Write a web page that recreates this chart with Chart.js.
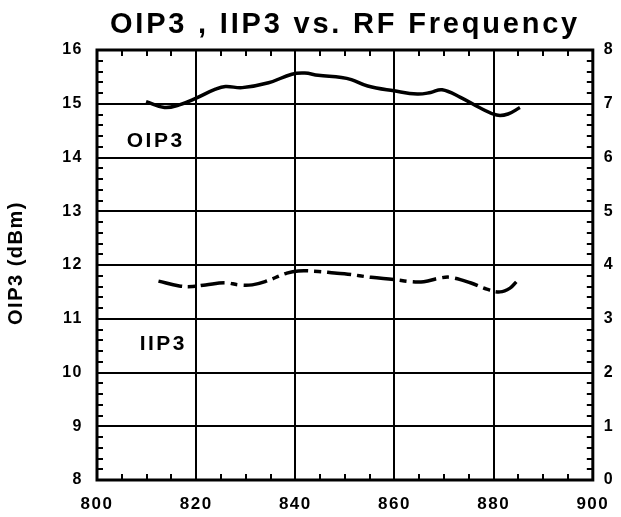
<!DOCTYPE html>
<html>
<head>
<meta charset="utf-8">
<script src="https://cdn.jsdelivr.net/npm/chart.js@4"></script>
<style>
  html, body { margin: 0; padding: 0; background: #fff; }
  #wrap { width: 621px; height: 517px; }
</style>
</head>
<body>
<div id="wrap"><canvas id="c" width="621" height="517"></canvas></div>
<script>
// OIP3 / IIP3 vs RF frequency — two traces, left axis dBm, right axis IIP3

const oipFreq = [809.9, 813.6, 816.6, 819.9, 823.9, 825.9, 829.3, 834.6, 839.3, 841.9,
                 844.6, 849.3, 851.3, 854.6, 859.9, 864.6, 867.3, 869.6, 873.3, 877.3,
                 880.6, 882.9, 885.3];
const oipVals = [15.04, 14.93, 14.98, 15.10, 15.27, 15.32, 15.30, 15.39, 15.55, 15.57,
                 15.53, 15.49, 15.45, 15.33, 15.24, 15.18, 15.21, 15.26, 15.12, 14.92,
                 14.79, 14.81, 14.93];

const iipFreq = [812.4, 816.6, 819.3, 821.9, 825.9, 828.6, 831.3, 833.9, 838.3, 840.6,
                 844.6, 847.9, 850.6, 855.3, 859.9, 863.3, 865.9, 869.3, 871.3, 875.3,
                 878.6, 881.3, 883.3, 884.6];
const iipVals = [3.70, 3.61, 3.60, 3.63, 3.67, 3.63, 3.63, 3.69, 3.85, 3.89,
                 3.88, 3.85, 3.83, 3.77, 3.73, 3.69, 3.69, 3.76, 3.77, 3.67,
                 3.55, 3.50, 3.57, 3.69];

const xTicks  = [800, 820, 840, 860, 880, 900];
const yTicks  = [8, 9, 10, 11, 12, 13, 14, 15, 16];
const y2Ticks = [0, 1, 2, 3, 4, 5, 6, 7, 8];

const FONT = "'Liberation Sans', Arial, sans-serif";

const toXY = (xs, ys) => xs.map((x, i) => ({ x: x, y: ys[i] }));

// frame, inward minor ticks and free text
const decor = {
  id: 'decor',
  beforeDraw(chart) {
    chart.ctx.letterSpacing = '1.5px';
  },
  afterDraw(chart) {
    const ctx = chart.ctx;
    const a = chart.chartArea;
    const sx = chart.scales.x, sy = chart.scales.y;
    ctx.save();
    ctx.strokeStyle = '#000';

    // minor ticks
    ctx.lineWidth = 2;
    ctx.beginPath();
    for (let f = 805; f < 900; f += 5) {
      const px = Math.round(sx.getPixelForValue(f));
      ctx.moveTo(px, a.bottom); ctx.lineTo(px, a.bottom - 6);
      ctx.moveTo(px, a.top);    ctx.lineTo(px, a.top + 6);
    }
    for (let v = 8.2; v < 16; v += 0.2) {
      const py = Math.round(sy.getPixelForValue(v));
      ctx.moveTo(a.left, py);  ctx.lineTo(a.left + 6, py);
      ctx.moveTo(a.right, py); ctx.lineTo(a.right - 6, py);
    }
    ctx.stroke();

    // frame
    ctx.lineWidth = 3;
    ctx.strokeRect(a.left, a.top, a.right - a.left, a.bottom - a.top);

    ctx.fillStyle = '#000';
    // title
    ctx.letterSpacing = '2.8px';
    ctx.font = 'bold 29px ' + FONT;
    ctx.textAlign = 'center';
    ctx.textBaseline = 'alphabetic';
    ctx.fillText('OIP3 , IIP3 vs. RF Frequency', 345, 33);

    // series labels
    ctx.letterSpacing = '2.5px';
    ctx.font = 'bold 21px ' + FONT;
    ctx.textAlign = 'left';
    ctx.fillText('OIP3', sx.getPixelForValue(806), sy.getPixelForValue(14.2));
    ctx.fillText('IIP3', sx.getPixelForValue(808.6), sy.getPixelForValue(10.42));

    // y axis title
    ctx.letterSpacing = '1.5px';
    ctx.font = 'bold 20px ' + FONT;
    ctx.translate(22, 263);
    ctx.rotate(-Math.PI / 2);
    ctx.textAlign = 'center';
    ctx.fillText('OIP3 (dBm)', 0, 0);
    ctx.restore();
  }
};

new Chart(document.getElementById('c'), {
  type: 'line',
  data: {
    datasets: [
      {
        label: 'OIP3',
        data: toXY(oipFreq, oipVals),
        yAxisID: 'y',
        borderColor: '#000',
        borderWidth: 3.5,
        pointRadius: 0,
        tension: 0.4,
        fill: false,
      },
      {
        label: 'IIP3',
        data: toXY(iipFreq, iipVals),
        yAxisID: 'y2',
        borderColor: '#000',
        borderWidth: 3.5,
        borderDash: [24, 6, 7, 6],
        pointRadius: 0,
        tension: 0.4,
        fill: false,
      },
    ],
  },
  options: {
    responsive: false,
    animation: false,
    events: [],
    layout: { padding: { top: 50, left: 0, right: 0, bottom: 0 } },
    plugins: {
      legend:  { display: false },
      tooltip: { enabled: false },
      title:   { display: false },
    },
    scales: {
      x: {
        type: 'linear',
        position: 'bottom',
        min: 800,
        max: 900,
        afterBuildTicks: s => { s.ticks = xTicks.map(v => ({ value: v })); },
        afterFit: s => { s.height = 37; },
        ticks: {
          color: '#000',
          font: { family: FONT, size: 17, weight: 'bold' },
          padding: 14,
          maxRotation: 0,
        },
        grid: { color: '#000', lineWidth: 2, drawTicks: false },
        border: { display: false },
      },
      y: {
        position: 'left',
        min: 8,
        max: 16,
        afterBuildTicks: s => { s.ticks = yTicks.map(v => ({ value: v })); },
        afterFit: s => { s.width = 97; },
        ticks: {
          color: '#000',
          font: { family: FONT, size: 16, weight: 'bold' },
          padding: 14,
        },
        grid: { color: '#000', lineWidth: 2, drawTicks: false },
        border: { display: false },
      },
      y2: {
        position: 'right',
        min: 0,
        max: 8,
        afterBuildTicks: s => { s.ticks = y2Ticks.map(v => ({ value: v })); },
        afterFit: s => { s.width = 24; },
        ticks: {
          color: '#000',
          font: { family: FONT, size: 16, weight: 'bold' },
          padding: 11,
        },
        grid: { drawOnChartArea: false, drawTicks: false },
        border: { display: false },
      },
    },
  },
  plugins: [decor],
});
</script>
</body>
</html>
